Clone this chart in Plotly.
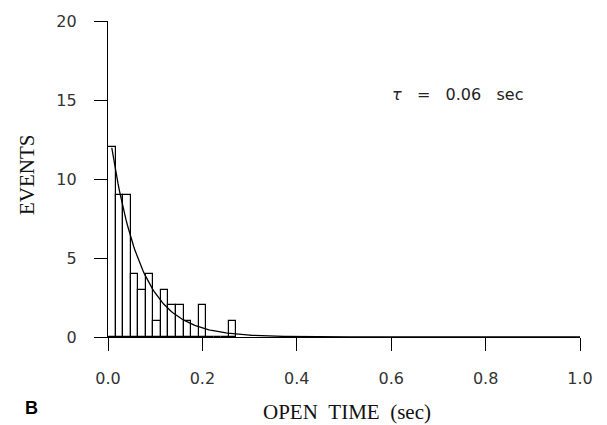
import numpy as np
import plotly.graph_objects as go

# Histogram of open times
bin_width = 0.016
bin_starts = [i * 0.016 for i in range(17)]
counts = [12, 9, 9, 4, 3, 4, 1, 3, 2, 2, 1, 0, 2, 0, 0, 0, 1]

# Exponential fit
tau_fit = 0.063
amp_fit = 13.6
fit_t = np.linspace(0.008, 1.0, 300)
fit_y = amp_fit * np.exp(-fit_t / tau_fit)

x_ticks = [0.0, 0.2, 0.4, 0.6, 0.8, 1.0]
x_ticklabels = ["0.0", "0.2", "0.4", "0.6", "0.8", "1.0"]
y_ticks = [0, 5, 10, 15, 20]
y_ticklabels = ["0", "5", "10", "15", "20"]

centers = [s + bin_width / 2 for s in bin_starts]

fig = go.Figure()
fig.add_trace(go.Bar(
    x=centers, y=counts, width=bin_width,
    marker=dict(color="white", line=dict(color="black", width=1.2)),
    showlegend=False, hoverinfo="skip", cliponaxis=False))
fig.add_trace(go.Scatter(
    x=fit_t, y=fit_y, mode="lines",
    line=dict(color="black", width=1.3),
    showlegend=False, hoverinfo="skip"))

tick_font = dict(family="DejaVu Sans", size=16, color="#333")

L, R, T, B = 108, 27, 19, 88
fig.update_layout(
    width=607, height=425,
    margin=dict(l=L, r=R, t=T, b=B),
    paper_bgcolor="white", plot_bgcolor="white",
    bargap=0,
    xaxis=dict(range=[0, 1.0], tickvals=x_ticks, ticktext=x_ticklabels,
               ticks="outside", ticklen=13, tickwidth=1.2, tickcolor="black",
               showgrid=False, showline=True, linecolor="black", linewidth=1.3,
               zeroline=False, tickfont=tick_font, ticklabelstandoff=14),
    yaxis=dict(range=[0, 20], tickvals=y_ticks, ticktext=y_ticklabels,
               ticks="outside", ticklen=13, tickwidth=1.2, tickcolor="black",
               showgrid=False, showline=True, linecolor="black", linewidth=1.3,
               zeroline=False, tickfont=tick_font, ticklabelstandoff=14),
    annotations=[
        dict(text="OPEN&nbsp;&nbsp;TIME&nbsp;&nbsp;(sec)", x=347, y=412,
             showarrow=False,
             font=dict(family="Liberation Serif", size=21, color="#111")),
        dict(text="EVENTS", x=27, y=174,
             showarrow=False, textangle=-90,
             font=dict(family="Liberation Serif", size=21, color="#111")),
        dict(text="<b>B</b>", x=31, y=408,
             showarrow=False,
             font=dict(family="Liberation Sans", size=18, color="black")),
        dict(text="<i>τ</i>&nbsp;&nbsp;&nbsp;=&nbsp;&nbsp;&nbsp;0.06&nbsp;&nbsp;&nbsp;sec", x=457, y=93,
             showarrow=False,
             font=dict(family="DejaVu Sans", size=16, color="#222")),
    ],
)

# Convert pixel positions of annotations to paper coordinates
plot_w = 607 - L - R
plot_h = 425 - T - B
for a in fig.layout.annotations:
    px, py = a.x, a.y
    a.xref = "paper"
    a.yref = "paper"
    a.x = (px - L) / plot_w
    a.y = 1 - (py - T) / plot_h
    a.xanchor = "center"
    a.yanchor = "middle"

fig.write_html("out.html")
